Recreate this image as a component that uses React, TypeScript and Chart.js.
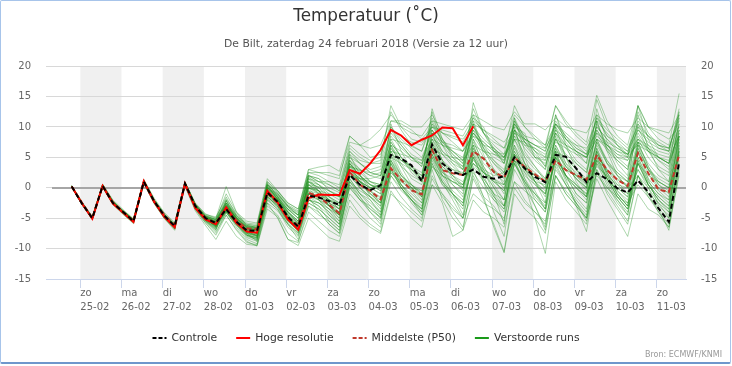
import React, { useEffect, useRef } from 'react';
import { Chart, registerables } from 'chart.js';

Chart.register(...registerables);

const FONT = "'DejaVu Sans', 'Lucida Grande', sans-serif";

// x-axis: day ticks (hours after 25-02 00:00 local time)
const dayNames = ['zo', 'ma', 'di', 'wo', 'do', 'vr', 'za', 'zo', 'ma', 'di', 'wo', 'do', 'vr', 'za', 'zo'];
const dayDates = ['25-02', '26-02', '27-02', '28-02', '01-03', '02-03', '03-03', '04-03', '05-03', '06-03', '07-03', '08-03', '09-03', '10-03', '11-03'];
const shadedDays = [0, 2, 4, 6, 8, 10, 12, 14];
const axisStartHour = -20;
const axisEndHour = 353;

// series time grid: first value 24-02 19:00, then every 6 hours
const firstHour = -5;
const stepHours = 6;

const controle = [
  0.2, -2.6, -5.0, 0.3, -2.5, -4.0, -5.5, 1.0, -2.2, -4.6, -6.3, 0.7, -3.0,
  -5.0, -5.8, -3.5, -5.6, -7.0, -7.1, -0.8, -2.3, -4.8, -6.4, -1.3, -1.6,
  -2.2, -2.8, 2.1, 0.5, -0.4, 0.4, 5.4, 4.8, 3.7, 1.1, 7.1, 4.0,
  2.6, 2.1, 3.0, 1.8, 1.5, 1.9, 5.0, 3.2, 1.8, 0.9, 5.4, 5.1,
  3.2, 0.9, 2.4, 1.4, -0.1, -0.8, 1.2, -0.7, -3.4, -5.6, 4.2,
];

const hogeResolutie = [
  0.2, -2.6, -5.1, 0.3, -2.6, -4.1, -5.6, 1.1, -2.3, -4.8, -6.5, 0.7, -3.3,
  -5.2, -6.0, -3.3, -5.8, -7.2, -7.4, -0.5, -2.4, -5.2, -6.9, -1.7, -1.1,
  -1.2, -1.2, 2.9, 2.3, 4.0, 6.2, 9.5, 8.6, 7.0, 7.9, 8.6, 9.9,
  9.8, 7.0, 10.1,
];

const middelste = [
  0.2, -2.5, -5.0, 0.3, -2.4, -4.0, -5.4, 0.9, -2.2, -4.5, -6.1, 0.5, -3.0,
  -5.0, -5.8, -3.2, -5.4, -6.7, -6.8, -0.9, -2.5, -4.9, -6.2, -0.8, -1.5,
  -2.8, -4.2, 2.6, 0.5, -0.5, -1.9, 3.2, 1.3, -0.4, -1.1, 6.2, 2.9,
  2.4, 2.1, 6.0, 4.8, 2.6, 1.7, 5.0, 3.4, 2.2, 1.0, 4.5, 2.9,
  2.1, 1.3, 5.4, 2.9, 1.3, 0.3, 5.7, 2.4, -0.3, -0.7, 5.4,
];

const verstoordeRuns = [
  [0.3,-2.5,-4.9,0.4,-2.4,-3.9,-5.4,1.1,-2.1,-4.5,-6.2,0.8,-2.9, -4.8,-5.6,-2.8,-5.0, -6.5,-6.8,-0.2,-1.8, -4.0,-5.5,0.5,0.2, -0.5,-1.2,3.5,2.8, 2.5,3.0,8.0,7.5, 6.8,6.0,10.5,9.0, 8.2,7.5,11.0,9.5, 8.0,6.5,12.0,10.0, 8.5,7.0,10.5,9.0, 7.5,6.0,11.5,9.5, 8.0,6.5,10.0,8.5, 7.0,6.5,12.0],
  [0.1,-2.7,-5.1,0.2,-2.6,-4.1,-5.6,0.9,-2.3,-4.7,-6.4,0.6,-3.1, -5.2,-6.3,-4.0,-6.2, -7.8,-8.2,-1.5,-3.0, -5.8,-7.5,-2.5,-3.5, -5.0,-6.5,0.5,-1.5, -3.5,-4.8,2.5,0.5, -1.5,-3.0,3.5,1.0, -1.0,-2.5,4.0,1.5, -1.0,-2.0,5.5,3.0, 1.0,0.5,6.0,3.5, 1.5,0.0,7.0,4.0, 2.0,1.0,8.0,5.0, 3.0,2.0,9.0],
  [0.2,-2.6,-5.1,0.4,-2.5,-4.1,-5.5,1.0,-2.3,-4.8,-6.6,0.5,-3.3, -5.5,-7.0,-2.0,-5.5, -7.5,-8.8,0.8,-1.5, -4.5,-6.8,1.5,-0.5, -3.0,-5.0,5.5,2.0, -0.5,-2.5,7.0,3.5, 0.5,-1.5,9.0,4.5, 1.5,-0.5,10.5,5.5, 1.5,-1.0,9.5,5.0, 1.0,-2.5,10.0,5.0, 1.0,-1.5,11.0,6.0, 2.0,0.0,12.0,6.5, 3.0,1.0,11.5],
  [0.2,-2.5,-5.0,0.3,-2.4,-4.0,-5.5,1.0,-2.1,-4.6,-6.2,0.8,-2.8, -4.9,-5.5,-3.0,-5.2, -6.8,-7.0,-0.5,-2.0, -4.5,-6.0,-0.5,-1.0, -1.5,-2.5,2.5,1.0, 0.0,0.5,5.0,4.0, 3.0,1.5,6.5,3.5, 2.0,1.0,4.0,2.5, 1.0,0.5,4.5,2.5, 1.0,-0.5,4.0,2.0, 0.5,-1.0,2.0,0.0, -1.5,-2.5,0.5,-1.5, -4.0,-6.0,3.5],
  [0.3,-2.4,-4.8,0.5,-2.2,-3.8,-5.2,1.3,-1.9,-4.3,-6.0,0.9,-2.7, -4.5,-5.0,-1.5,-4.5, -6.0,-6.2,1.0,-0.8, -3.0,-4.0,2.5,2.0, 1.0,0.5,7.0,5.5, 4.5,5.0,12.5,9.5, 7.0,6.0,11.5,8.0, 6.0,4.5,13.0,9.0, 6.5,4.0,11.0,8.5, 6.0,3.5,9.5,7.0, 4.5,3.0,10.5,7.0, 5.0,3.5,9.0,6.5, 4.5,3.0,10.5],
  [0.1,-2.8,-5.2,0.1,-2.7,-4.3,-5.8,0.8,-2.5,-5.0,-6.8,0.4,-3.5, -5.8,-7.5,-4.0,-6.5, -8.5,-9.2,-2.0,-3.5, -6.5,-8.0,-3.0,-4.0, -6.0,-7.5,-1.0,-3.0, -5.0,-6.5,1.0,-1.5, -3.5,-5.0,2.0,-1.0, -4.0,-6.5,1.5,-2.0, -6.0,-10.5,0.0,-2.5, -4.0,-6.0,3.5,0.5, -2.0,-4.0,5.0,1.5, -1.5,-3.5,4.5,1.0, -1.0,-2.5,6.0],
  [0.2,-2.6,-4.9,0.2,-2.6,-4.0,-5.4,0.9,-2.3,-4.6,-6.3,0.6,-3.0, -5.0,-6.0,-3.0,-5.0, -6.5,-7.0,-1.0,-2.0, -3.5,-4.5,0.0,-0.5, -1.0,-1.5,2.0,1.5, 1.5,2.0,6.0,5.5, 5.0,4.5,8.0,7.0, 6.5,6.0,8.5,7.5, 6.0,5.5,9.0,8.0, 7.0,6.5,9.5,8.0, 6.5,5.5,8.5,7.0, 5.5,5.0,7.5,6.5, 5.5,5.0,8.5],
  [0.3,-2.5,-5.0,0.4,-2.3,-3.9,-5.3,1.2,-2.0,-4.4,-6.0,0.9,-2.8, -5.0,-6.5,-3.0,-5.5, -7.0,-8.0,0.0,-1.5, -4.0,-6.0,1.0,0.0, -2.0,-3.5,4.0,2.0, 0.0,-1.0,6.5,4.0, 1.5,0.5,8.0,4.5, 2.0,0.0,7.0,3.0, 0.0,-3.0,4.5,0.5, -5.0,-10.8,1.0,-2.0, -4.0,-6.0,3.0,0.0, -2.0,-4.0,4.0,0.5, -1.5,-3.0,7.0],
  [0.2,-2.7,-5.0,0.3,-2.6,-4.2,-5.6,0.9,-2.4,-4.8,-6.5,0.5,-3.2, -5.3,-6.2,-3.2,-5.4, -7.2,-7.5,-0.5,-2.5, -5.0,-6.5,-1.0,-1.5, -2.5,-3.5,3.0,1.5, 1.0,0.5,9.0,7.0, 5.0,4.0,10.0,8.0, 5.5,4.0,12.0,9.0, 7.0,5.5,13.5,10.0, 8.0,6.5,13.5,11.0, 9.0,7.5,15.2,11.0, 8.5,7.0,13.5,10.0, 8.0,7.0,15.5],
  [0.2,-2.6,-5.0,0.2,-2.5,-4.1,-5.6,1.0,-2.3,-4.7,-6.4,0.7,-3.1, -5.1,-6.0,-3.8,-5.8, -7.3,-7.8,-1.2,-2.8, -5.5,-7.0,-2.0,-3.0, -4.5,-6.0,1.0,-1.0, -2.5,-4.0,3.0,0.5, -1.0,-2.5,5.0,2.0, -0.5,-2.0,3.5,1.0, -2.0,-4.0,4.0,1.0, -1.5,-3.5,5.5,2.0, -1.0,-2.5,6.0,2.5, -1.0,-3.0,5.0,1.5, -3.0,-4.5,4.0],
  [0.4,-2.3,-4.7,0.6,-2.0,-3.6,-5.1,1.4,-1.7,-4.1,-5.7,1.0,-2.5, -4.3,-5.0,0.2,-4.0, -5.5,-5.8,1.5,-0.5, -2.5,-3.5,3.0,3.4, 3.7,2.7,8.5,7.0, 6.5,7.0,11.0,10.5, 9.5,8.0,10.0,9.5, 9.0,8.5,11.5,10.0, 6.0,5.0,8.0,7.5, 6.5,5.5,9.0,7.0, 6.0,5.0,9.5,7.0, 5.5,4.5,8.0,6.5, 5.0,4.0,9.0],
  [0.2,-2.6,-5.0,0.3,-2.5,-4.0,-5.5,1.0,-2.2,-4.6,-6.3,0.7,-3.0, -5.0,-5.8,-3.3,-5.5, -6.9,-7.1,-0.9,-2.5, -4.9,-6.3,-0.8,-1.5, -2.8,-4.2,2.6,0.5, -0.6,-1.7,3.2,1.3, -0.4,-1.1,6.2,2.9, 2.4,2.1,6.0,4.8, 2.6,1.7,5.0,3.4, 2.2,1.0,4.5,2.9, 2.1,1.3,5.4,2.9, 1.3,0.3,5.7,2.4, -0.3,-0.7,5.4],
  [0.1,-2.7,-5.2,0.2,-2.7,-4.2,-5.7,0.8,-2.4,-4.9,-6.7,0.4,-3.4, -5.6,-7.2,-4.5,-6.8, -8.8,-9.6,-3.5,-4.8, -8.5,-9.5,-5.0,-6.6, -8.2,-8.8,-3.0,-5.0, -6.5,-7.5,-1.0,-2.5, -4.0,-5.5,1.5,-1.5, -3.5,-5.0,2.5,0.0, -2.0,-3.5,4.0,1.0, -1.0,-2.5,5.0,2.0, 0.0,-1.5,6.5,3.0, 0.5,-1.0,7.5,3.5, 1.0,0.0,8.5],
  [0.3,-2.5,-4.9,0.5,-2.3,-3.9,-5.3,1.1,-2.0,-4.4,-6.1,0.9,-2.7, -4.8,-5.5,-2.5,-5.0, -6.6,-6.9,0.3,-1.5, -3.8,-5.5,1.8,0.5, -1.5,-3.0,5.0,3.0, 1.0,0.0,10.5,6.0, 3.0,1.0,12.5,7.0, 4.0,2.0,11.0,6.5, 3.0,0.5,11.5,6.0, 3.5,1.0,12.0,7.0, 3.0,1.5,13.0,7.5, 4.0,2.0,13.5,8.0, 5.0,4.0,12.5],
  [0.2,-2.6,-5.1,0.2,-2.6,-4.1,-5.7,0.9,-2.4,-4.8,-6.6,0.5,-3.3, -5.4,-6.8,-4.2,-6.0, -8.0,-8.5,-2.5,-3.8, -6.0,-7.8,-2.0,-3.0, -5.5,-7.0,0.0,-2.0, -4.0,-5.5,2.0,0.0, -2.5,-4.5,0.5,-1.0, -3.0,-5.0,-1.0,-2.5, -3.5,-5.0,1.0,-0.5, -2.0,-4.0,3.0,0.5, -2.5,-5.5,2.5,-0.5, -3.0,-5.5,2.0,-1.0, -2.5,-4.0,3.5],
  [0.3,-2.5,-4.9,0.4,-2.4,-3.9,-5.4,1.1,-2.1,-4.5,-6.2,0.8,-2.9, -4.7,-5.2,-1.0,-4.0, -6.2,-6.5,0.5,-1.0, -3.0,-4.2,2.0,1.0, 0.5,-0.5,6.0,4.5, 4.0,4.5,13.5,10.0, 8.0,7.5,9.5,7.0, 5.0,3.5,10.0,7.0, 4.5,2.5,8.0,5.0, 3.0,1.5,7.0,4.0, 2.5,0.5,8.0,4.5, 2.0,0.0,6.5,3.0, 1.5,0.5,9.5],
  [0.2,-2.6,-5.0,0.3,-2.5,-4.1,-5.6,0.9,-2.3,-4.7,-6.4,0.6,-3.1, -5.2,-6.1,-3.6,-5.7, -7.2,-7.4,-1.0,-2.6, -5.2,-6.8,-1.5,-2.5, -4.0,-5.5,2.0,0.0, -1.5,-3.0,4.0,1.5, 0.0,-1.5,5.5,2.5, 1.0,0.0,6.5,3.5, 1.0,-0.5,5.0,2.0, 0.5,-1.0,4.5,1.5, 0.0,-1.5,4.0,1.5, -0.5,-2.0,3.0,0.5, -1.5,-3.0,6.5],
  [0.2,-2.6,-5.0,0.4,-2.5,-4.0,-5.4,1.0,-2.2,-4.6,-6.3,0.7,-3.0, -5.0,-5.9,-3.2,-5.3, -6.8,-7.0,-0.5,-2.0, -4.2,-5.8,0.0,-0.5, -2.0,-3.0,3.0,1.5, 0.5,0.0,6.5,4.5, 3.5,2.5,8.5,6.0, 4.5,3.5,9.0,6.5, 5.0,4.0,9.5,7.5, 6.0,5.0,10.5,8.0, 6.0,5.0,10.0,8.0, 6.5,5.5,9.5,7.5, 6.5,6.0,10.0],
  [0.1,-2.7,-5.1,0.2,-2.6,-4.2,-5.7,0.8,-2.4,-4.9,-6.6,0.4,-3.4, -5.5,-6.9,-3.0,-5.8, -7.8,-8.6,0.0,-1.8, -4.6,-6.5,1.0,-0.5, -3.0,-4.5,4.5,1.5, -1.5,-3.5,6.0,2.5, 0.0,-2.0,7.5,3.0, -1.0,-4.5,5.5,1.0, -4.0,-8.0,3.0,0.0, -3.0,-6.5,4.0,0.5, -2.5,-5.0,6.0,2.0, -1.0,-3.0,7.0,3.0, 0.0,-1.5,8.5],
  [0.3,-2.4,-4.8,0.5,-2.3,-3.8,-5.3,1.2,-2.0,-4.4,-6.1,0.8,-2.8, -4.6,-5.2,-2.2,-4.6, -6.2,-6.5,0.0,-1.2, -3.2,-4.5,1.5,1.0, 0.0,-0.8,5.0,4.0, 3.0,3.5,9.5,8.5, 7.5,7.0,10.0,9.0, 8.5,8.0,10.5,9.5, 8.5,7.5,10.0,9.0, 5.0,4.5,8.0,7.0, 6.0,5.0,8.0,7.0, 6.0,5.5,7.0,6.0, 5.0,4.0,8.0],
  [0.2,-2.5,-5.0,0.3,-2.4,-4.0,-5.5,1.0,-2.2,-4.6,-6.3,0.7,-3.0, -5.0,-6.2,-3.8,-6.0, -7.5,-8.0,-1.5,-3.0, -5.5,-7.2,-2.0,-2.5, -4.0,-6.0,1.5,-1.0, -2.0,-4.0,4.5,1.0, -0.5,-2.5,6.5,2.0, 0.5,-1.0,8.0,3.5, 0.5,-2.0,7.0,2.5, -0.5,-3.5,6.0,1.5, -3.0,-7.2,3.0,-1.0, -3.5,-6.0,2.0,-1.5, -3.5,-5.0,5.5],
  [0.3,-2.4,-4.9,0.5,-2.2,-3.8,-5.2,1.2,-2.0,-4.3,-6.0,0.9,-2.6, -4.4,-4.8,-1.8,-4.2, -5.8,-6.0,1.0,-0.5, -2.5,-3.5,3.0,2.5, 2.0,1.5,8.5,7.0, 5.0,5.5,10.0,8.0, 6.5,5.0,9.0,7.5, 7.0,6.0,11.5,9.0, 7.5,6.5,9.5,8.0, 7.0,6.0,10.5,8.5, 7.0,6.5,9.0,7.5, 6.5,5.5,8.0,7.0, 6.0,5.5,9.5],
  [0.2,-2.7,-5.1,0.2,-2.6,-4.1,-5.6,0.9,-2.3,-4.8,-6.5,0.5,-3.2, -5.3,-6.6,-4.0,-6.2, -8.2,-8.8,-2.0,-3.5, -6.0,-7.5,-2.5,-3.5, -5.0,-6.5,0.0,-2.0, -3.0,-5.0,2.0,-0.5, -2.0,-4.0,4.0,0.5, -1.5,-3.5,5.0,1.5, -1.0,-3.0,4.5,1.0, -3.0,-7.0,2.0,-0.5, -2.5,-4.5,4.5,1.0, -2.0,-4.5,4.0,0.5, -2.0,-3.5,6.0],
  [0.2,-2.6,-5.0,0.3,-2.5,-4.0,-5.5,1.0,-2.2,-4.6,-6.3,0.7,-3.0, -4.9,-5.7,-3.0,-5.2, -6.7,-6.9,-0.3,-2.0, -4.3,-5.8,0.0,-0.8, -2.0,-3.0,3.5,2.0, 0.5,-0.5,7.5,5.0, 3.5,2.0,9.5,6.0, 4.5,3.0,14.0,9.0, 6.0,4.0,10.5,7.5, 5.5,3.5,9.0,6.5, 4.0,2.5,9.5,6.5, 4.5,3.0,10.5,7.0, 5.0,4.0,12.0],
  [0.1,-2.7,-5.1,0.2,-2.6,-4.2,-5.6,0.9,-2.3,-4.8,-6.5,0.6,-3.2, -5.2,-6.3,-3.5,-5.8, -7.4,-7.8,-1.0,-2.5, -5.0,-6.5,-1.0,-2.0, -3.5,-5.0,2.0,0.0, -1.5,-3.0,4.5,2.0, 0.5,-1.0,7.0,3.5, 2.0,0.5,7.5,4.0, 2.5,1.0,6.5,3.5, 2.0,0.0,7.0,3.5, 1.5,0.0,5.5,2.5, 0.0,-1.5,3.0,0.0, -3.5,-7.0,2.5],
  [0.3,-2.5,-4.9,0.4,-2.4,-3.9,-5.3,1.1,-2.1,-4.5,-6.2,0.8,-2.9, -4.9,-5.6,-2.8,-5.0, -6.4,-6.7,-0.2,-1.5, -3.6,-5.0,1.0,0.5, -0.5,-1.5,3.5,3.0, 2.0,2.5,7.0,6.0, 4.5,4.0,6.5,5.5, 5.0,4.5,7.0,6.0, 5.5,5.0,8.5,7.0, 5.0,4.0,7.5,6.5, 5.5,5.0,8.0,6.5, 5.0,4.5,7.5,6.0, 5.0,4.5,8.5],
  [0.2,-2.6,-5.1,0.2,-2.6,-4.1,-5.6,0.9,-2.4,-4.8,-6.5,0.5,-3.2, -5.4,-6.5,-3.8,-6.0, -7.8,-8.2,-1.8,-3.2, -6.0,-8.5,-1.5,-4.0, -6.0,-7.5,1.0,-1.5, -4.0,-6.0,3.5,0.0, -2.0,-3.5,5.5,1.5, -1.0,-3.0,6.5,2.5, 0.0,-2.0,8.0,4.0, 1.0,-1.0,9.0,5.0, 2.0,0.0,11.0,6.5, 3.0,1.5,10.0,6.0, 3.5,2.5,10.5],
  [0.3,-2.4,-4.8,0.5,-2.2,-3.8,-5.2,1.2,-2.0,-4.4,-6.0,0.9,-2.7, -4.6,-5.2,-2.0,-4.5, -6.0,-6.3,0.5,-0.5, -2.8,-3.8,2.5,2.5, 2.5,2.0,7.5,7.0, 8.0,9.6,12.0,10.0, 9.0,8.5,11.0,10.5, 10.0,9.5,12.0,11.0, 10.0,9.5,12.5,10.5, 10.5,9.5,11.5,10.0, 9.5,9.0,12.0,10.5, 9.5,9.0,11.5,10.0, 9.5,9.0,12.0],
  [0.2,-2.6,-5.0,0.3,-2.5,-4.1,-5.6,0.9,-2.3,-4.7,-6.4,0.6,-3.1, -5.1,-6.4,-3.8,-6.0, -7.8,-8.4,-1.5,-3.0, -5.5,-7.0,-1.0,-2.0, -3.5,-5.5,2.5,0.0, -2.0,-4.5,4.0,0.5, -1.5,-3.5,4.5,1.0, -2.0,-5.0,3.0,-1.5, -6.5,-10.7,-1.0,-3.5, -5.0,-7.5,2.0,-1.0, -3.0,-5.0,4.0,0.5, -2.5,-4.5,5.0,1.0, -1.0,-2.0,7.5],
  [0.2,-2.6,-5.0,0.3,-2.5,-4.0,-5.5,1.0,-2.2,-4.7,-6.4,0.7,-3.0, -5.0,-6.0,-3.5,-5.5, -7.0,-7.3,-1.0,-2.5, -4.8,-6.5,-1.0,-1.5, -2.5,-4.0,3.0,1.0, 0.0,-1.0,7.0,4.5, 3.0,1.5,13.0,8.0, 5.0,3.0,9.5,6.0, 4.0,2.5,8.5,5.5, 3.5,1.5,8.0,5.0, 3.0,1.0,7.5,4.5, 2.5,1.0,7.0,4.0, 2.0,1.0,8.5],
  [0.1,-2.8,-5.2,0.1,-2.7,-4.3,-5.8,0.8,-2.5,-5.0,-6.8,0.4,-3.6, -5.8,-7.8,-4.5,-7.0, -9.0,-9.4,-3.0,-4.5, -7.5,-8.8,-4.0,-5.5, -7.0,-8.0,-2.0,-4.5, -6.0,-7.2,-0.5,-3.0, -5.0,-6.5,0.5,-2.5, -8.0,-7.0,-2.0,-4.0, -5.0,-6.5,1.0,-2.0, -4.0,-5.5,2.0,-1.0, -3.0,-5.0,1.5,-2.0, -5.0,-8.0,-1.0,-3.5, -4.5,-6.5,2.0],
  [0.2,-2.6,-5.0,0.3,-2.5,-4.0,-5.5,1.0,-2.2,-4.6,-6.3,0.7,-3.0, -5.0,-5.8,-3.3,-5.4, -6.9,-7.0,-0.7,-2.2, -4.7,-6.2,-1.0,-1.2, -2.0,-2.5,2.5,1.0, 0.0,0.5,5.5,4.5, 3.5,1.5,7.5,4.5, 3.0,2.5,4.5,3.0, 2.0,2.5,5.5,3.5, 2.0,1.0,6.0,5.0, 3.0,1.0,3.5,2.0, 0.5,0.0,2.0,0.0, -2.5,-5.0,4.5],
  [0.3,-2.5,-4.9,0.4,-2.3,-3.9,-5.4,1.1,-2.1,-4.5,-6.2,0.8,-2.9, -4.8,-5.4,-2.5,-4.8, -6.3,-6.6,0.0,-1.5, -3.5,-5.0,1.5,0.5, -1.0,-2.0,4.5,3.0, 2.0,1.5,8.5,6.5, 5.0,3.5,10.5,7.5, 6.0,4.5,10.0,8.0, 6.5,5.0,10.5,8.5, 8.0,7.0,13.5,10.5, 8.5,7.0,11.0,9.0, 7.0,6.0,10.5,8.5, 7.5,6.5,11.5],
  [0.2,-2.6,-5.0,0.3,-2.5,-4.1,-5.5,1.0,-2.3,-4.7,-6.4,0.6,-3.1, -5.1,-6.1,-3.8,-5.8, -7.2,-7.6,-1.5,-2.8, -5.0,-6.5,-2.0,-2.5, -3.5,-4.5,1.0,-0.5, -1.5,-2.5,2.5,1.0, 0.0,-0.5,3.5,2.0, 1.0,0.5,4.0,2.5, 1.5,0.5,4.5,3.0, 2.0,1.0,5.0,3.0, 2.0,1.0,4.5,3.0, 1.5,0.5,4.0,2.0, 1.0,0.0,5.0],
  [0.2,-2.6,-5.0,0.4,-2.4,-4.0,-5.5,1.0,-2.2,-4.6,-6.2,0.7,-2.9, -4.9,-5.6,-2.8,-5.0, -6.6,-6.9,-0.2,-1.8, -4.0,-5.5,0.5,-0.5, -2.0,-3.5,4.0,2.0, 0.5,-0.5,8.0,5.0, 2.5,1.0,9.0,5.5, 3.5,2.0,10.5,6.5, 4.0,2.0,11.0,7.5, 5.0,3.0,12.0,8.0, 6.0,4.0,14.5,10.0, 7.0,5.0,12.5,9.0, 7.0,6.0,13.0],
  [0.1,-2.8,-5.2,0.1,-2.8,-4.4,-5.9,0.7,-2.6,-5.1,-7.0,0.2,-3.8, -6.2,-8.5,-5.5,-8.0, -9.3,-9.5,-2.5,-5.0, -8.5,-9.0,-3.0,-4.5, -5.5,-7.0,0.5,-2.0, -3.5,-5.0,3.0,0.0, -2.0,-4.0,5.0,1.0, -1.0,-2.5,6.0,2.0, -1.5,-3.0,5.5,1.5, -2.0,-4.0,5.0,1.0, -1.5,-3.5,6.5,2.0, -1.0,-3.0,6.0,1.5, -0.5,-2.0,7.0],
  [0.3,-2.5,-4.9,0.5,-2.3,-3.8,-5.3,1.2,-2.0,-4.4,-6.1,0.8,-2.8, -4.7,-5.3,-2.6,-4.9, -6.4,-6.6,0.0,-1.0, -3.0,-4.5,2.0,1.5, 0.5,-0.5,6.0,4.0, 2.5,2.0,9.5,7.0, 5.0,3.5,11.0,7.5, 5.5,4.0,9.0,7.0, 5.5,4.5,11.5,8.0, 6.0,4.5,10.0,7.5, 5.5,4.0,12.0,8.5, 7.0,5.5,13.5,10.0, 9.0,8.0,10.0],
  [0.2,-2.7,-5.1,0.3,-2.6,-4.1,-5.6,0.9,-2.3,-4.8,-6.5,0.6,-3.2, -5.2,-6.4,-3.5,-5.8, -7.5,-8.0,-0.5,-2.5, -5.0,-7.0,0.0,-1.0, -3.0,-4.5,4.0,1.0, -1.0,-2.5,5.5,2.0, 0.0,-1.5,6.5,3.0, 0.5,-1.5,7.0,3.0, -1.0,-6.0,10.0,4.0, 1.0,-1.5,8.5,4.0, 1.5,-0.5,8.0,4.0, 1.0,-1.0,7.5,3.5, 0.5,-1.0,8.5],
  [0.2,-2.6,-5.0,0.3,-2.5,-4.1,-5.6,1.0,-2.3,-4.7,-6.4,0.6,-3.1, -5.1,-6.3,-3.2,-5.6, -7.4,-7.9,-0.8,-2.6, -5.2,-7.0,-0.5,-1.8, -3.0,-4.0,3.0,1.0, -0.5,-1.5,5.0,2.0, 0.5,-0.5,6.0,2.5, 1.5,0.5,5.0,2.5, 1.5,0.0,6.0,3.0, 1.5,0.0,6.5,3.0, 0.5,-1.5,5.0,1.5, -1.5,-3.5,2.0,-1.0, -4.0,-6.5,3.0],
  [0.3,-2.5,-4.9,0.4,-2.3,-3.9,-5.3,1.1,-2.1,-4.5,-6.1,0.8,-2.8, -4.7,-5.3,-2.5,-4.6, -6.2,-6.5,0.5,-1.0, -3.2,-4.5,2.0,1.0, 1.0,0.0,6.5,5.0, 4.0,4.0,11.0,11.0, 10.0,10.0,12.0,9.0, 7.5,6.0,9.0,7.0, 6.5,5.0,9.5,7.0, 6.5,5.0,10.5,8.0, 7.0,5.5,11.5,8.5, 7.5,6.0,9.5,8.0, 7.0,6.5,11.0],
  [0.2,-2.6,-5.0,0.3,-2.5,-4.0,-5.5,1.0,-2.2,-4.6,-6.3,0.7,-3.0, -5.0,-6.0,-3.0,-5.0, -7.0,-7.5,-0.5,-2.0, -4.5,-6.0,0.5,-0.5, -2.5,-3.5,4.0,2.0, 0.5,0.0,6.0,3.5, 2.0,1.0,7.0,4.0, 3.0,2.0,8.0,5.0, 3.0,1.5,7.0,4.0, 2.5,1.0,6.5,3.5, 2.0,0.5,7.5,4.0, 2.5,1.0,6.0,3.0, 1.0,0.0,7.5],
  [0.2,-2.7,-5.1,0.2,-2.6,-4.2,-5.7,0.9,-2.4,-4.8,-6.6,0.5,-3.3, -5.4,-6.7,-2.5,-5.5, -7.6,-8.3,0.5,-2.0, -5.0,-7.3,0.0,-2.0, -4.5,-6.0,1.5,-1.0, -3.0,-4.5,3.0,0.0, -2.0,-3.5,4.0,0.5, -1.0,-3.0,5.0,1.0, -1.5,-3.5,5.5,1.5, -1.0,-3.0,6.0,2.0, -1.0,-2.5,5.5,1.5, -1.5,-3.5,4.5,0.5, -2.0,-3.5,6.5],
  [0.3,-2.5,-4.9,0.4,-2.4,-3.9,-5.4,1.1,-2.1,-4.5,-6.2,0.8,-2.9, -4.9,-5.7,-2.8,-5.2, -6.6,-7.0,0.2,-1.8, -4.0,-5.6,1.0,0.0, -1.5,-2.5,4.5,2.5, 1.0,0.5,7.5,5.0, 3.0,2.0,8.0,5.5, 4.0,3.0,8.5,6.0, 4.5,3.0,9.0,6.5, 4.5,3.0,8.0,5.5, 4.0,2.5,9.0,6.0, 4.5,3.0,8.5,6.0, 4.5,3.5,9.5],
  [0.2,-2.6,-5.0,0.3,-2.5,-4.0,-5.5,1.0,-2.2,-4.6,-6.3,0.7,-3.0, -5.1,-6.2,-3.0,-5.5, -7.3,-7.8,-0.3,-2.3, -4.8,-6.8,0.5,-1.0, -3.0,-4.5,3.5,1.0, -1.0,-2.5,4.0,0.5, -2.0,-4.5,3.0,-2.0, -5.0,-7.0,2.0,-1.5, -3.0,-5.5,4.0,0.5, -1.0,-3.5,5.5,2.0, 0.0,-2.0,6.0,2.5, 0.0,-1.5,6.5,3.0, 0.5,-0.5,8.0],
  [0.2,-2.5,-4.9,0.4,-2.4,-4.0,-5.4,1.0,-2.1,-4.5,-6.2,0.8,-2.9, -4.8,-5.5,-2.2,-4.8, -6.4,-6.7,0.5,-1.3, -3.5,-5.0,2.0,1.5, -0.5,-1.5,5.5,4.0, 2.5,2.0,10.0,7.5, 5.5,4.5,9.5,7.0, 6.0,5.0,9.5,7.5, 6.0,4.5,10.5,8.0, 7.0,6.0,11.0,8.5, 6.5,5.5,10.0,8.0, 6.0,5.0,11.0,8.5, 6.5,6.0,12.5],
  [0.2,-2.6,-5.0,0.3,-2.5,-4.1,-5.6,0.9,-2.3,-4.7,-6.4,0.6,-3.1, -5.1,-6.1,-3.4,-5.6, -7.1,-7.5,-1.2,-2.7, -5.0,-6.6,-1.5,-2.0, -3.0,-4.5,2.5,0.5, -1.0,-2.0,4.5,1.5, 0.5,-1.0,5.5,2.0, 1.0,0.0,5.5,2.5, 1.0,-0.5,6.0,3.0, 0.5,-1.0,5.0,2.0, 0.5,-1.0,4.5,1.5, -0.5,-2.5,4.0,0.5, -2.0,-4.0,6.0],
];

const legendEntries = [
  { label: 'Controle', color: '#000000', dash: [4, 2] },
  { label: 'Hoge resolutie', color: '#ff0000', dash: [] as number[] },
  { label: 'Middelste (P50)', color: '#c0392b', dash: [4, 2] },
  { label: 'Verstoorde runs', color: '#1a9a1a', dash: [] as number[] },
];

const toPoints = (vals: number[]) => vals.map((v, i) => ({ x: firstHour + stepHours * i, y: v }));

const bandsPlugin = {
  id: 'dayBands',
  beforeDraw(chart: any) {
    const { ctx, chartArea } = chart;
    const x = chart.scales.x;
    ctx.save();
    ctx.fillStyle = '#f0f0f0';
    shadedDays.forEach((d) => {
      const x1 = Math.max(x.getPixelForValue(d * 24), chartArea.left);
      const x2 = Math.min(x.getPixelForValue(d * 24 + 24), chartArea.right);
      if (x2 > x1) ctx.fillRect(x1, chartArea.top, x2 - x1, chartArea.bottom - chartArea.top);
    });
    ctx.restore();
  },
  beforeDatasetsDraw(chart: any) {
    const { ctx, chartArea } = chart;
    const y0 = Math.round(chart.scales.y.getPixelForValue(0));
    ctx.save();
    ctx.strokeStyle = '#a6a6a6';
    ctx.lineWidth = 2;
    ctx.beginPath();
    ctx.moveTo(chartArea.left + 6, y0);
    ctx.lineTo(chartArea.right, y0);
    ctx.stroke();
    ctx.restore();
  },
  afterDraw(chart: any) {
    const { ctx } = chart;
    ctx.save();
    ctx.font = `10.8px ${FONT}`;
    ctx.textBaseline = 'middle';
    const lineW = 14;
    const gap = 5;
    const itemGap = 19;
    const widths = legendEntries.map((e) => ctx.measureText(e.label).width);
    const total = widths.reduce((a, w) => a + lineW + gap + w, 0) + itemGap * (legendEntries.length - 1);
    let x = (chart.width - total) / 2;
    const y = 338;
    legendEntries.forEach((e, i) => {
      ctx.strokeStyle = e.color;
      ctx.lineWidth = 2;
      ctx.setLineDash(e.dash);
      ctx.beginPath();
      ctx.moveTo(x, y);
      ctx.lineTo(x + lineW, y);
      ctx.stroke();
      ctx.setLineDash([]);
      ctx.fillStyle = '#333333';
      ctx.textAlign = 'left';
      ctx.fillText(e.label, x + lineW + gap, y);
      x += lineW + gap + widths[i] + itemGap;
    });
    ctx.font = `8px ${FONT}`;
    ctx.fillStyle = '#999999';
    ctx.textAlign = 'right';
    ctx.fillText('Bron: ECMWF/KNMI', 722, 355);
    ctx.restore();
  },
};

export default function App() {
  const ref = useRef<HTMLCanvasElement | null>(null);

  useEffect(() => {
    if (!ref.current) return;
    const datasets: any[] = [
      { label: 'Controle', data: toPoints(controle), borderColor: '#000000', borderWidth: 2, borderDash: [5, 3] },
      { label: 'Hoge resolutie', data: toPoints(hogeResolutie), borderColor: '#ff0000', borderWidth: 2 },
      { label: 'Middelste (P50)', data: toPoints(middelste), borderColor: '#c0392b', borderWidth: 2, borderDash: [5, 3] },
      ...verstoordeRuns.map((run, k) => ({
        label: k === 0 ? 'Verstoorde runs' : '',
        data: toPoints(run),
        borderColor: 'rgba(30,145,30,0.36)',
        borderWidth: 1,
      })),
    ];
    const dayTicks = dayDates.map((_, i) => i * 24);
    const chart = new Chart(ref.current, {
      type: 'line',
      data: { datasets },
      options: {
        responsive: false,
        animation: false,
        events: [],
        elements: { point: { radius: 0 }, line: { tension: 0 } },
        layout: { padding: 0 },
        plugins: {
          legend: { display: false },
          tooltip: { enabled: false },
          title: {
            display: true,
            text: 'Temperatuur (˚C)',
            color: '#333333',
            font: { family: FONT, size: 16.8, weight: 'normal' },
            padding: { top: 7, bottom: 0 },
          },
          subtitle: {
            display: true,
            text: 'De Bilt, zaterdag 24 februari 2018 (Versie za 12 uur)',
            color: '#555555',
            font: { family: FONT, size: 10.8, weight: 'normal' },
            padding: { top: 11, bottom: 15 },
          },
        },
        scales: {
          x: {
            type: 'linear',
            min: axisStartHour,
            max: axisEndHour,
            afterBuildTicks: (s: any) => {
              s.ticks = dayTicks.map((v) => ({ value: v }));
            },
            afterFit: (s: any) => {
              s.height = 87;
            },
            grid: { drawOnChartArea: false, color: '#ccd6eb', tickLength: 9 },
            border: { color: '#ccd6eb' },
            ticks: {
              autoSkip: false,
              maxRotation: 0,
              minRotation: 0,
              align: 'start',
              padding: -2,
              color: '#666666',
              font: { family: FONT, size: 10, lineHeight: 1.4 },
              callback: (_v: any, i: number) => [dayNames[i], dayDates[i]],
            },
          },
          y: {
            position: 'left',
            min: -15,
            max: 20,
            afterFit: (s: any) => {
              s.width = 46;
            },
            ticks: { stepSize: 5, padding: 15, color: '#666666', font: { family: FONT, size: 10 } },
            grid: {
              drawTicks: false,
              color: (c: any) => (c.tick && c.tick.value === -15 ? 'rgba(0,0,0,0)' : '#d8d8d8'),
            },
            border: { display: false },
          },
          y2: {
            position: 'right',
            min: -15,
            max: 20,
            afterFit: (s: any) => {
              s.width = 46;
            },
            ticks: { stepSize: 5, padding: 15, color: '#666666', font: { family: FONT, size: 10 } },
            grid: { drawOnChartArea: false, drawTicks: false },
            border: { display: false },
          },
        },
      } as any,
      plugins: [bandsPlugin],
    });
    return () => chart.destroy();
  }, []);

  return (
    <div style={{ position: 'fixed', left: 0, top: 0, width: 732, height: 366, background: '#ffffff' }}>
      <div
        style={{
          position: 'absolute',
          left: 0,
          top: 0,
          width: 731,
          height: 364,
          boxSizing: 'border-box',
          border: '1px solid #a7c4ea',
          borderBottom: '2px solid #6f97cc',
          borderRadius: 2,
        }}
      />
      <canvas ref={ref} width={732} height={366} style={{ position: 'absolute', left: 0, top: 0, display: 'block' }} />
    </div>
  );
}
